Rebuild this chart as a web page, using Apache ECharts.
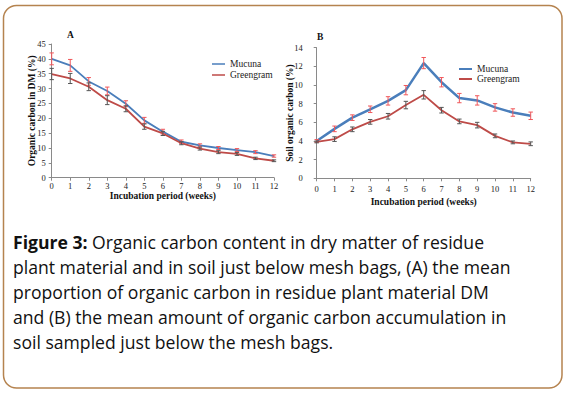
<!DOCTYPE html>
<html>
<head>
<meta charset="utf-8">
<script src="https://cdn.jsdelivr.net/npm/echarts@6/dist/echarts.min.js"></script>
<style>
html,body{margin:0;padding:0;background:#fff;}
#c{width:568px;height:393px;}
</style>
</head>
<body>
<div id="c"></div>
<script>
// ---- data ----
var weeks = [0,1,2,3,4,5,6,7,8,9,10,11,12];
// Panel A: organic carbon in DM (%)
var aMucuna    = [40.0,37.8,32.4,29.2,24.9,19.3,15.5,12.1,10.9,10.0,9.3,8.6,7.3];
var aMucunaErr = [2.0,2.0,1.3,1.3,1.0,1.0,0.8,0.6,0.5,0.5,0.5,0.5,0.4];
var aGreen     = [34.9,33.4,30.6,26.1,23.2,17.2,14.9,11.6,9.8,8.6,8.0,6.5,5.7];
var aGreenErr  = [1.9,1.7,1.3,1.5,1.0,0.9,0.7,0.5,0.5,0.5,0.5,0.4,0.3];
// Panel B: soil organic carbon (%)
var bMucuna    = [4.0,5.3,6.5,7.4,8.3,9.45,12.35,10.3,8.6,8.35,7.6,7.05,6.7];
var bMucunaErr = [0.15,0.3,0.3,0.35,0.45,0.5,0.6,0.5,0.5,0.5,0.4,0.4,0.4];
var bGreen     = [3.9,4.2,5.25,6.05,6.65,7.85,8.95,7.3,6.1,5.7,4.55,3.85,3.7];
var bGreenErr  = [0.1,0.25,0.25,0.25,0.3,0.4,0.45,0.3,0.25,0.3,0.2,0.15,0.2];

var seriesNames = ['Mucuna','Greengram'];
var captionLines = [
  'Organic carbon content in dry matter of residue',
  'plant material and in soil just below mesh bags, (A) the mean',
  'proportion of organic carbon in residue plant material DM',
  'and (B) the mean amount of organic carbon accumulation in',
  'soil sampled just below the mesh bags.'
];

var BLUE = '#4a7ebb', RED = '#be4b48', ERR_RED = '#f0575a', ERR_GREY = '#555555';
var SERIF = '"Liberation Serif","Times New Roman",serif';

function pairs(vals){ return weeks.map(function(w,i){return [w, vals[i]];}); }
function errPairs(vals, errs){ return weeks.map(function(w,i){return [w, vals[i], errs[i]];}); }

function errRender(color){
  return function(params, api){
    var x = api.value(0), y = api.value(1), e = api.value(2);
    var hi = api.coord([x, y+e]), lo = api.coord([x, y-e]);
    var cw = 2.2;
    return {type:'group', children:[
      {type:'line', shape:{x1:hi[0],y1:hi[1],x2:lo[0],y2:lo[1]}, style:{stroke:color,lineWidth:1}},
      {type:'line', shape:{x1:hi[0]-cw,y1:hi[1],x2:hi[0]+cw,y2:hi[1]}, style:{stroke:color,lineWidth:1}},
      {type:'line', shape:{x1:lo[0]-cw,y1:lo[1],x2:lo[0]+cw,y2:lo[1]}, style:{stroke:color,lineWidth:1}}
    ]};
  };
}

var axisLine = {show:true, lineStyle:{color:'#8a8a8a', width:1}};
var axisTick = {show:true, length:3, lineStyle:{color:'#8a8a8a'}};
var lbl = {color:'#222', fontFamily:SERIF, fontSize:8.5};

function xAxis(gi, gap, margin){
  return {type:'value', gridIndex:gi, min:0, max:12, interval:1,
    name:'Incubation period (weeks)', nameLocation:'middle', nameGap:gap, nameMoveOverlap:false,
    nameTextStyle:{fontFamily:SERIF, fontWeight:'bold', fontSize:9.5, color:'#111'},
    axisLine:axisLine, axisTick:axisTick, axisLabel:Object.assign({margin:margin}, lbl), splitLine:{show:false}};
}
function yAxis(gi, max, interval, name, gap, margin){
  return {type:'value', gridIndex:gi, min:0, max:max, interval:interval,
    name:name, nameLocation:'middle', nameGap:gap, nameMoveOverlap:false,
    nameTextStyle:{fontFamily:SERIF, fontWeight:'bold', fontSize:9.5, color:'#111'},
    axisLine:axisLine, axisTick:axisTick, axisLabel:Object.assign({margin:margin}, lbl), splitLine:{show:false}};
}
function lineSeries(name, data, color, xi, w){
  return {type:'line', name:name, xAxisIndex:xi, yAxisIndex:xi, data:data, showSymbol:false, symbol:'none',
    lineStyle:{color:color, width:w}, itemStyle:{color:color}, z:2, animation:false};
}
function errSeries(data, color, xi){
  return {type:'custom', xAxisIndex:xi, yAxisIndex:xi, data:data, renderItem:errRender(color), z:3, animation:false, silent:true};
}

var CAP_FONT = 17.6;
var capChildren = captionLines.map(function(t,i){
  var txt = i===0 ? '{b|Figure 3:} ' + t : t;
  return {type:'text', left:13, top:233 + i*25,
    style:{text:txt, fontFamily:'"Open Sans",sans-serif', fontSize:CAP_FONT, fill:'#111',
      rich:{b:{fontWeight:'bold', fontFamily:'"Open Sans",sans-serif', fontSize:CAP_FONT, fill:'#111'}}}};
});

var chart = echarts.init(document.getElementById('c'), null, {renderer:'svg'});
chart.setOption({
  animation:false,
  backgroundColor:'#fff',
  grid:[
    {left:51.7, top:44, width:222.3, height:133.7},
    {left:316.7, top:47.7, width:214, height:130.6}
  ],
  xAxis:[xAxis(0,13.5,4), xAxis(1,19,6)],
  yAxis:[yAxis(0,45,5,'Organic carbon in DM (%)',15,6), yAxis(1,14,2,'Soil organic carbon (%)',22,14)],
  legend:[
    {data:seriesNames, left:212, top:59, padding:0, orient:'vertical', itemGap:1, itemWidth:13, itemHeight:1.5, icon:'rect',
      textStyle:{fontFamily:SERIF, fontSize:9.5, color:'#222'}},
    {data:seriesNames, left:459, top:64, padding:0, orient:'vertical', itemGap:0, itemWidth:13, itemHeight:2, icon:'rect',
      textStyle:{fontFamily:SERIF, fontSize:9.5, color:'#222'}}
  ],
  series:[
    lineSeries('Mucuna', pairs(aMucuna), BLUE, 0, 1.8),
    lineSeries('Greengram', pairs(aGreen), RED, 0, 1.8),
    errSeries(errPairs(aMucuna,aMucunaErr), ERR_RED, 0),
    errSeries(errPairs(aGreen,aGreenErr), ERR_GREY, 0),
    lineSeries('Mucuna', pairs(bMucuna), BLUE, 1, 2.5),
    lineSeries('Greengram', pairs(bGreen), RED, 1, 1.8),
    errSeries(errPairs(bMucuna,bMucunaErr), ERR_RED, 1),
    errSeries(errPairs(bGreen,bGreenErr), ERR_GREY, 1)
  ],
  graphic:[
    {type:'rect', shape:{x:3.5, y:5.5, width:558.5, height:382.5, r:13}, style:{fill:'none', stroke:'#b5834f', lineWidth:1.5}, silent:true},
    {type:'text', left:67, top:30, style:{text:'A', fontFamily:SERIF, fontWeight:'bold', fontSize:9.5, fill:'#111'}},
    {type:'text', left:317, top:32, style:{text:'B', fontFamily:SERIF, fontWeight:'bold', fontSize:9.5, fill:'#111'}}
  ].concat(capChildren)
});
</script>
</body>
</html>
